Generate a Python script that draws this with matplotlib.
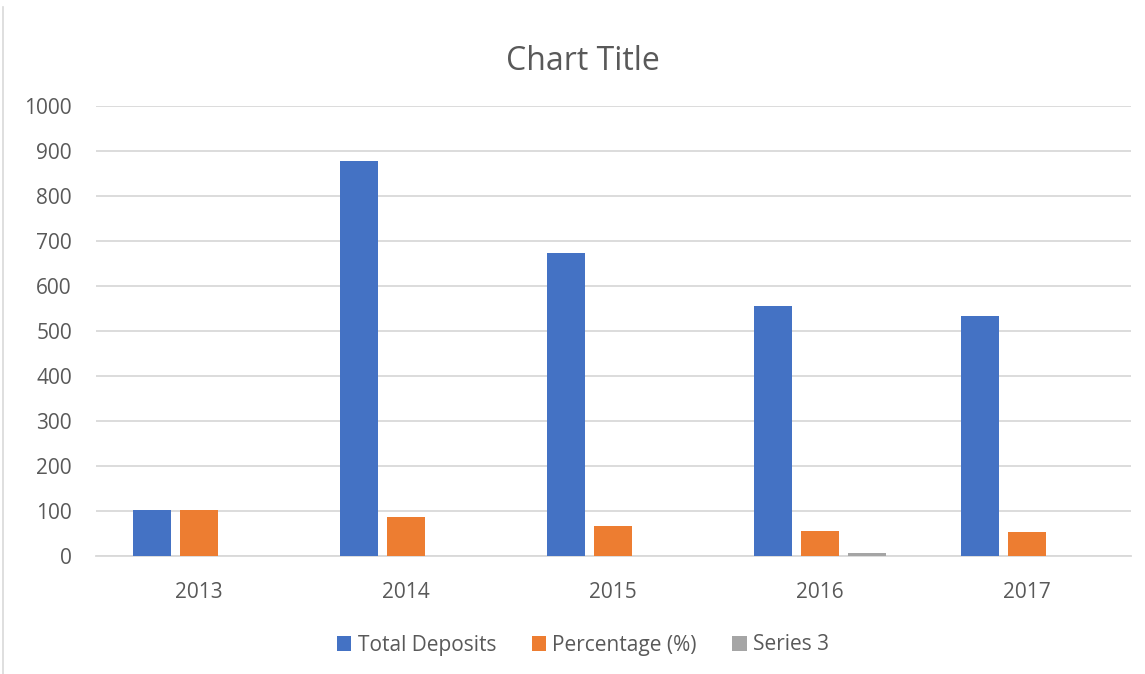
import matplotlib
matplotlib.use("Agg")
import matplotlib.pyplot as plt
import numpy as np
from matplotlib.lines import Line2D

years = ["2013", "2014", "2015", "2016", "2017"]
total_deposits = [101, 877, 673, 555, 533]
percentage = [101, 86, 66, 55, 53]
series3 = [0, 0, 0, 6, 0]

plt.rcParams["font.family"] = ["Open Sans", "DejaVu Sans"]
text_color = "#595959"
grid_color = "#D9D9D9"

fig = plt.figure(figsize=(11.45, 6.74), dpi=100)
ax = fig.add_axes([95.5 / 1145, 1 - 555.7 / 674, 1035 / 1145, 450 / 674])

x = np.arange(len(years))
w = 0.179
step = 0.227
ax.bar(x - step, total_deposits, width=w, color="#4472C4", label="Total Deposits", zorder=3)
ax.bar(x, percentage, width=w, color="#ED7D31", label="Percentage (%)", zorder=3)
ax.bar(x + step, series3, width=w, color="#A5A5A5", label="Series 3", zorder=3)

ax.set_xlim(-0.5, len(years) - 0.5)
ax.set_ylim(0, 1000)
ax.set_yticks(np.arange(0, 1001, 100))
ax.set_xticks(x)
ax.set_xticklabels(years)
ax.yaxis.grid(True, color=grid_color, linewidth=1.3, zorder=0)
ax.set_axisbelow(True)
for s in ["top", "right", "left"]:
    ax.spines[s].set_visible(False)
ax.spines["bottom"].set_color(grid_color)
ax.spines["bottom"].set_linewidth(1.3)
ax.tick_params(axis="both", length=0, labelsize=15, colors=text_color)
ax.tick_params(axis="y", pad=17)
ax.tick_params(axis="x", pad=19)

fig.text(583 / 1145, 1 - 61 / 674, "Chart Title", ha="center", va="center",
         fontsize=23, color=text_color)

leg = fig.legend(loc="center", bbox_to_anchor=(583 / 1145, 1 - 645 / 674), ncol=3,
                 frameon=False, fontsize=15, handlelength=0.7, handleheight=0.7,
                 handletextpad=0.3, columnspacing=1.7, labelcolor=text_color)

# chart frame edge on the left
fig.add_artist(Line2D([3 / 1145, 3 / 1145], [0, 1 - 7 / 674], color=grid_color, linewidth=1.2))

fig.savefig("out.png", dpi=100)
